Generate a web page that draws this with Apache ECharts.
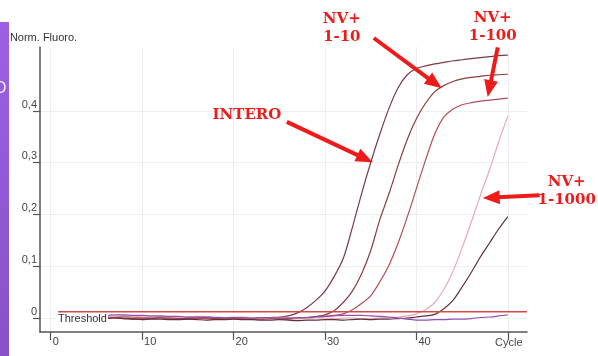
<!DOCTYPE html>
<html>
<head>
<meta charset="utf-8">
<script src="https://cdn.jsdelivr.net/npm/echarts@6/dist/echarts.min.js"></script>
<style>
  html, body { margin: 0; padding: 0; background: #ffffff; }
  #chart { width: 598px; height: 356px; }
</style>
</head>
<body>
<div id="chart"></div>
<script>
// Amplification cycles 1..50
const cycles = [];
for (let c = 1; c <= 50; c++) cycles.push(c);

// Normalised fluorescence per cycle
const intero = [0.002, 0.001, 0.001, 0.000, 0.001, 0.002, 0.001, 0.000, -0.001, 0.000,
  0.000, 0.001, 0.000, -0.001, -0.001, 0.000, 0.000, -0.001, 0.000, 0.000,
  0.001, 0.000, 0.000, 0.001, 0.002, 0.004, 0.010, 0.020, 0.034, 0.052,
  0.080, 0.115, 0.175, 0.240, 0.300, 0.355, 0.405, 0.445, 0.470, 0.482,
  0.487, 0.491, 0.494, 0.497, 0.499, 0.501, 0.503, 0.505, 0.507, 0.508];
const nv10 = [0.003, 0.002, 0.002, 0.003, 0.002, 0.001, 0.002, 0.003, 0.002, 0.001,
  0.001, 0.002, 0.001, 0.000, 0.001, 0.002, 0.001, 0.000, 0.000, 0.001,
  0.001, 0.000, -0.001, 0.000, 0.000, -0.001, 0.000, 0.001, 0.003, 0.006,
  0.014, 0.030, 0.052, 0.085, 0.130, 0.190, 0.240, 0.295, 0.345, 0.385,
  0.415, 0.437, 0.449, 0.457, 0.462, 0.465, 0.467, 0.469, 0.470, 0.471];
const nv100 = [0.001, 0.000, -0.001, 0.000, 0.001, 0.000, 0.000, -0.001, -0.002, -0.001,
  -0.001, 0.000, -0.001, -0.002, -0.002, -0.001, -0.001, -0.002, -0.002, -0.001,
  -0.001, -0.002, -0.002, -0.001, -0.001, -0.002, -0.001, 0.000, 0.001, 0.003,
  0.005, 0.008, 0.016, 0.028, 0.043, 0.070, 0.102, 0.145, 0.195, 0.250,
  0.305, 0.355, 0.388, 0.404, 0.412, 0.416, 0.419, 0.421, 0.423, 0.425];
const nv1000 = [0.004, 0.003, 0.003, 0.004, 0.003, 0.002, 0.003, 0.004, 0.003, 0.002,
  0.002, 0.003, 0.002, 0.001, 0.002, 0.003, 0.003, 0.002, 0.001, 0.002,
  0.002, 0.001, 0.000, 0.001, 0.002, 0.001, 0.000, 0.000, 0.001, 0.000,
  -0.001, 0.000, 0.000, -0.001, -0.001, 0.000, 0.001, 0.002, 0.004, 0.008,
  0.016, 0.030, 0.055, 0.090, 0.135, 0.185, 0.237, 0.286, 0.340, 0.390];
const late = [-0.001, 0.000, 0.000, -0.001, -0.002, -0.001, 0.000, -0.001, -0.002, -0.003,
  -0.002, -0.002, -0.003, -0.003, -0.002, -0.003, -0.004, -0.003, -0.003, -0.002,
  -0.003, -0.003, -0.004, -0.004, -0.003, -0.004, -0.005, -0.004, -0.004, -0.003,
  -0.003, -0.004, -0.003, -0.002, -0.003, -0.002, -0.002, -0.001, 0.000, 0.002,
  0.004, 0.007, 0.018, 0.034, 0.060, 0.088, 0.118, 0.145, 0.172, 0.196];
const negative = [0.005, 0.006, 0.005, 0.006, 0.006, 0.005, 0.006, 0.006, 0.005, 0.005,
  0.004, 0.004, 0.003, 0.003, 0.002, 0.002, 0.002, 0.001, 0.001, 0.001,
  0.001, 0.000, 0.001, 0.001, 0.000, 0.000, 0.001, 0.001, 0.002, 0.003,
  0.004, 0.005, 0.005, 0.005, 0.004, 0.003, 0.002, 0.000, -0.002, -0.004,
  -0.004, -0.003, -0.003, -0.002, -0.002, -0.001, 0.001, 0.002, 0.004, 0.006];

// Threshold level and the cycle span it is drawn over
const thresholdValue = 0.012;
const thresholdSpan = [0.8, 52.1];

// Axis ticks
const xTicks = [0, 10, 20, 30, 40, 50];
const yTicks = [0, 0.1, 0.2, 0.3, 0.4];

// Callouts: label anchor and arrow (tail -> tip) in data units [cycle, fluorescence]
const callouts = [
  { text: 'INTERO', at: [21.47, 0.392], tail: [25.83, 0.379], tip: [35.23, 0.301] },
  { text: 'NV+\n1-10', at: [31.84, 0.560], tail: [35.34, 0.541], tip: [42.77, 0.444] },
  { text: 'NV+\n1-100', at: [48.35, 0.562], tail: [48.90, 0.523], tip: [47.80, 0.427] },
  { text: 'NV+\n1-1000', at: [56.44, 0.245], tail: [53.49, 0.237], tip: [47.26, 0.232] }
];

const curves = [
  { name: 'INTERO', values: intero, color: '#7d3a45' },
  { name: 'NV+ 1-10', values: nv10, color: '#8e3c40' },
  { name: 'NV+ 1-100', values: nv100, color: '#b24f5a' },
  { name: 'NV+ 1-1000', values: nv1000, color: '#e9a8b3' },
  { name: 'NV+ late', values: late, color: '#5c3042' },
  { name: 'Negative', values: negative, color: '#9150b2' }
];

const chart = echarts.init(document.getElementById('chart'), null, { renderer: 'canvas' });

const series = curves.map(cv => ({
  type: 'line',
  name: cv.name,
  data: cycles.map((c, i) => [c, cv.values[i]]),
  showSymbol: false,
  smooth: 0.3,
  lineStyle: { color: cv.color, width: 1.2 },
  emphasis: { disabled: true },
  z: 3
}));

series.push({
  type: 'line',
  name: 'Threshold',
  data: [
    {
      value: [thresholdSpan[0], thresholdValue],
      label: {
        show: true,
        position: 'right',
        distance: 0,
        offset: [-1, 7],
        formatter: 'Threshold',
        color: '#333',
        fontSize: 11,
        fontFamily: 'Liberation Sans, Arial, sans-serif',
        backgroundColor: '#ffffff',
        padding: [0, 1, 0, 1]
      }
    },
    [thresholdSpan[1], thresholdValue]
  ],
  showSymbol: true,
  symbol: 'circle',
  symbolSize: 0,
  lineStyle: { color: '#d24a4a', width: 1.5 },
  itemStyle: { color: '#d24a4a' },
  emphasis: { disabled: true },
  z: 4
});

const axisFont = 'Liberation Sans, Arial, sans-serif';

chart.setOption({
  animation: false,
  backgroundColor: '#ffffff',
  grid: { left: 40, right: 71, top: 47, bottom: 24 },
  xAxis: {
    type: 'value',
    min: -1.17,
    max: 52.1,
    name: 'Cycle',
    nameLocation: 'end',
    nameGap: -32,
    nameTextStyle: { color: '#444', fontSize: 11, fontFamily: axisFont, verticalAlign: 'top', align: 'left', padding: [5, 0, 0, 0] },
    axisLine: { onZero: false, lineStyle: { color: '#555', width: 1.5 } },
    axisTick: { customValues: xTicks, length: 8, lineStyle: { color: '#555', width: 1.2 } },
    axisLabel: {
      customValues: xTicks,
      formatter: v => (v === 50 ? '' : String(v)),
      align: 'left',
      margin: 4,
      padding: [0, 0, 0, 2],
      color: '#444',
      fontSize: 11,
      fontFamily: axisFont
    },
    splitLine: { show: true, lineStyle: { color: '#eeeeee', width: 1 } }
  },
  yAxis: {
    type: 'value',
    min: -0.027,
    max: 0.5236,
    name: 'Norm. Fluoro.',
    nameLocation: 'end',
    nameGap: 4,
    nameTextStyle: { color: '#333', fontSize: 11, fontFamily: axisFont, padding: [0, 0, 0, 7] },
    axisLine: { show: true, onZero: false, lineStyle: { color: '#555', width: 1.5 } },
    axisTick: { show: true, customValues: yTicks, length: 7, lineStyle: { color: '#555', width: 1.2 } },
    axisLabel: {
      customValues: yTicks,
      formatter: v => String(Math.round(v * 10) / 10).replace('.', ','),
      align: 'right',
      verticalAlign: 'bottom',
      margin: 3,
      padding: [0, 0, 1, 0],
      color: '#444',
      fontSize: 11,
      fontFamily: axisFont
    },
    splitLine: { show: true, lineStyle: { color: '#eeeeee', width: 1 } }
  },
  series: series
});

// Callout texts and arrows, placed through the chart's own coordinate conversion
const red = '#ee1b1b';
const graphics = [
  {
    type: 'rect',
    shape: { x: 0, y: 22, width: 9, height: 334 },
    style: {
      fill: new echarts.graphic.LinearGradient(0, 0, 0, 1, [
        { offset: 0, color: '#9d60e2' },
        { offset: 1, color: '#8752c6' }
      ])
    },
    z: 10
  },
  {
    type: 'text',
    x: -6,
    y: 89,
    style: { text: 'O', fill: '#f3ecfb', font: '16px Liberation Sans, Arial, sans-serif', verticalAlign: 'middle' },
    z: 11
  }
];

callouts.forEach(co => {
  const p = chart.convertToPixel({ gridIndex: 0 }, co.at);
  const t = chart.convertToPixel({ gridIndex: 0 }, co.tail);
  const h = chart.convertToPixel({ gridIndex: 0 }, co.tip);
  graphics.push({
    type: 'text',
    x: p[0],
    y: p[1],
    style: {
      text: co.text,
      fill: red,
      font: 'bold 15px DejaVu Serif, serif',
      align: 'center',
      verticalAlign: 'middle',
      lineHeight: 18
    },
    z: 20
  });
  const dx = h[0] - t[0], dy = h[1] - t[1];
  const len = Math.sqrt(dx * dx + dy * dy);
  const ux = dx / len, uy = dy / len;
  const headLen = 17, headHalf = 7;
  const bx = h[0] - ux * headLen, by = h[1] - uy * headLen;
  graphics.push({
    type: 'line',
    shape: { x1: t[0], y1: t[1], x2: bx + ux * 2, y2: by + uy * 2 },
    style: { stroke: red, lineWidth: 4, lineCap: 'butt' },
    z: 20
  });
  graphics.push({
    type: 'polygon',
    shape: { points: [[h[0], h[1]], [bx - uy * headHalf, by + ux * headHalf], [bx + uy * headHalf, by - ux * headHalf]] },
    style: { fill: red },
    z: 20
  });
});

chart.setOption({ graphic: graphics });
</script>
</body>
</html>
